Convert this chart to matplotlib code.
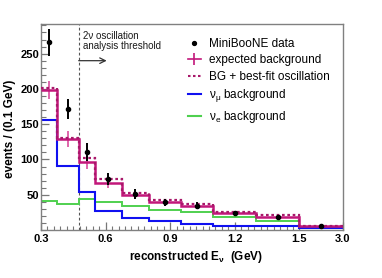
import numpy as np
import matplotlib
matplotlib.use("Agg")
import matplotlib.pyplot as plt
from matplotlib.lines import Line2D
from matplotlib.ticker import FixedLocator, NullFormatter, MultipleLocator

plt.rcParams['font.family'] = ['Liberation Sans', 'DejaVu Sans']
plt.rcParams['mathtext.fontset'] = 'custom'
plt.rcParams['mathtext.rm'] = 'Liberation Sans'
plt.rcParams['mathtext.bf'] = 'Liberation Sans:bold'
plt.rcParams['mathtext.default'] = 'regular'

# ---- data ----
edges = [0.3, 0.375, 0.475, 0.55, 0.675, 0.8, 0.95, 1.1, 1.3, 1.5, 3.0]
data = [266, 171, 111, 72, 51, 39, 34.6, 24, 18, 5]
data_err = [19, 14, 13, 8.5, 6.5, 5.2, 4.8, 3.5, 3, 0.8]
bkg = [198, 129, 96, 66.5, 49.7, 39.3, 34.6, 23.8, 19, 5.5]
bkg_err = [13, 12, 9, 6.5, 4, 3, 2.5, 2, 1.5, 0.5]
osc = [200.7, 131, 101.5, 72, 53, 42, 37, 26, 21.5, 5.8]
numu = [156, 91, 53.5, 27, 17.2, 13.3, 8.8, 5.5, 5, 3]
nue = [41, 37, 44, 40, 33.7, 27.8, 26, 19, 13.4, 2.5]
xticks = [0.3, 0.6, 0.9, 1.2, 1.5, 3.0]
xticklabels = ["0.3", "0.6", "0.9", "1.2", "1.5", "3.0"]
yticks = [50, 100, 150, 200, 250]
threshold = 0.475

MAG = '#c2177a'
MAG_ERR = '#dc5aa5'
MAG_DOT = '#a8186a'
BLUE = '#1010f0'
GREEN = '#4fd04f'


def fwd(x):
    x = np.asarray(x, dtype=float)
    return np.where(x <= 1.5, x, 1.5 + (x - 1.5) * (0.2 / 1.5))


def inv(y):
    y = np.asarray(y, dtype=float)
    return np.where(y <= 1.5, y, 1.5 + (y - 1.5) * 7.5)


fig = plt.figure(figsize=(3.82, 2.78), dpi=100)
ax = fig.add_axes([41 / 382, 48 / 278, 301.5 / 382, 206 / 278])
ax.set_xscale('function', functions=(fwd, inv))
ax.set_xlim(0.3, 3.0)
ax.set_ylim(0, 292)

e = np.array(edges)
centers_plot = inv(0.5 * (fwd(e[:-1]) + fwd(e[1:])))

ax.stairs(nue, edges, baseline=None, color=GREEN, lw=1.4, zorder=2)
ax.stairs(numu, edges, baseline=None, color=BLUE, lw=1.5, zorder=2)
ax.errorbar(centers_plot, bkg, yerr=bkg_err, fmt='none', ecolor=MAG_ERR,
            elinewidth=1.3, capsize=0, zorder=3)
ax.stairs(bkg, edges, baseline=None, color=MAG, lw=1.8, zorder=3)
ax.stairs(osc, edges, baseline=None, color=MAG_DOT, lw=1.6,
          linestyle=(0, (1.2, 1.2)), zorder=3)
ax.errorbar(centers_plot, data, yerr=data_err, fmt='o', color='black',
            markersize=3, elinewidth=1.4, capsize=0, zorder=5)

# threshold
ax.axvline(threshold, color='#555555', lw=0.8, linestyle=(0, (2.5, 2)), zorder=1)
ax.annotate('', xy=(0.605, 240), xytext=(threshold, 240),
            arrowprops=dict(arrowstyle='->', color='#333333', lw=0.9,
                            shrinkA=0, shrinkB=0))
ax.text(0.494, 268, "2ν oscillation\nanalysis threshold", fontsize=7,
        va='center', ha='left', color='#1a1a1a', linespacing=1.05)

# ticks
ax.xaxis.set_major_locator(FixedLocator(xticks))
ax.set_xticklabels(xticklabels)
minor_x = [round(v, 2) for v in np.arange(0.33, 1.5, 0.03)
           if all(abs(v - t) > 1e-6 for t in xticks)]
ax.xaxis.set_minor_locator(FixedLocator(minor_x))
ax.xaxis.set_minor_formatter(NullFormatter())
ax.yaxis.set_major_locator(FixedLocator(yticks))
ax.yaxis.set_minor_locator(MultipleLocator(10))
ax.tick_params(which='both', direction='in', colors='#777777',
               labelcolor='black', top=False, right=False)
ax.tick_params(axis='y', which='major', length=6, width=0.9, pad=1.5)
ax.tick_params(axis='y', which='minor', length=3.5, width=0.8)
ax.tick_params(axis='x', which='major', length=6, width=0.9, pad=3)
ax.tick_params(axis='x', which='minor', length=3, width=0.8)
for lab in ax.get_xticklabels() + ax.get_yticklabels():
    lab.set_fontweight('bold')
    lab.set_fontsize(8)
for sp in ax.spines.values():
    sp.set_color('#808080')
    sp.set_linewidth(1.0)

ax.set_xlabel(r"reconstructed E$_{\mathbf{\nu}}$  (GeV)", fontsize=8.5,
              fontweight='bold')
ax.xaxis.set_label_coords(0.514, -0.09)
ax.set_ylabel("events / (0.1 GeV)", fontsize=8.5, fontweight='bold')
ax.yaxis.set_label_coords(-0.083, 0.493)

handles = [
    Line2D([], [], marker='o', color='black', ls='none', markersize=2.8),
    Line2D([], [], color=MAG, lw=1.2, marker='|', markersize=9,
           markeredgewidth=1.2),
    Line2D([], [], color=MAG_DOT, lw=1.5, linestyle=(0, (1.2, 1.2))),
    Line2D([], [], color=BLUE, lw=1.5),
    Line2D([], [], color=GREEN, lw=1.5),
]
labels = ["MiniBooNE data", "expected background",
          "BG + best-fit oscillation", "ν$_{\\mu}$ background",
          "ν$_{e}$ background"]
fig.legend(handles, labels, loc='upper left',
           bbox_to_anchor=(188 / 382, (278 - 38) / 278), frameon=False,
           fontsize=8.5, handlelength=1.1, handletextpad=0.7,
           labelspacing=0.38, borderpad=0, borderaxespad=0)

fig.savefig("out.png", dpi=100)
